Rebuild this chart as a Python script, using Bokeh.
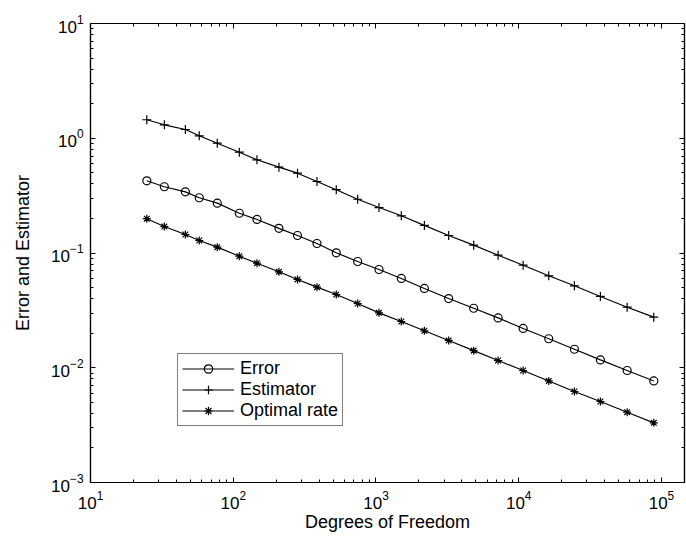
from bokeh.plotting import figure
from bokeh.models import (FixedTicker, Legend, LegendItem, LogAxis, LogTickFormatter,
                          CustomJSTickFormatter, Range1d)
from bokeh.embed import file_html
from bokeh.resources import INLINE

# ---- data ----
dof = [24.8, 32.9, 46.2, 57.8, 77.3, 110.3, 146.6, 209, 282, 386, 527, 744,
       1050, 1505, 2183, 3230, 4835, 7170, 10740, 16230, 24550, 37340, 57490, 88350]
error = [0.426, 0.378, 0.341, 0.303, 0.272, 0.222, 0.196, 0.164, 0.142, 0.121,
         0.1004, 0.0843, 0.0718, 0.0600, 0.0491, 0.0401, 0.0330, 0.0272, 0.0220,
         0.0179, 0.0145, 0.0117, 0.00946, 0.00767]
estimator = [1.449, 1.310, 1.192, 1.05, 0.905, 0.756, 0.649, 0.560, 0.496, 0.420,
             0.356, 0.294, 0.249, 0.211, 0.174, 0.142, 0.117, 0.0957, 0.0783,
             0.0633, 0.0518, 0.0418, 0.0337, 0.0276]
optimal = [0.199, 0.170, 0.145, 0.1285, 0.1124, 0.0938, 0.0815, 0.0686, 0.0588,
           0.0504, 0.0435, 0.0363, 0.0301, 0.0253, 0.0210, 0.0173, 0.0141,
           0.01156, 0.00946, 0.00767, 0.00621, 0.00508, 0.00410, 0.00331]

series_names = ["Error", "Estimator", "Optimal rate"]
x_tick_exps = [1, 2, 3, 4, 5]
y_tick_exps = [-3, -2, -1, 0, 1]
x_limits = (10, 1.45e5)
y_limits = (1e-3, 1e1)
x_title = "Degrees of Freedom"
y_title = "Error and Estimator"

FONT = "Liberation Sans"

p = figure(x_axis_type="log", y_axis_type="log",
           x_range=Range1d(*x_limits), y_range=Range1d(*y_limits),
           frame_width=594, frame_height=459,
           min_border_left=90, min_border_right=2, min_border_top=23, min_border_bottom=54,
           output_backend="svg", toolbar_location=None,
           background_fill_color="white", border_fill_color="white")
p.grid.visible = False
p.outline_line_color = "black"
p.outline_line_width = 1.2

p.add_layout(LogAxis(), "right")
p.add_layout(LogAxis(), "above")


def minors(exps):
    out = []
    for e in exps:
        out += [m * 10.0 ** e for m in range(2, 10)]
    return out


for ax in p.xaxis:
    ax.ticker = FixedTicker(ticks=[10.0 ** e for e in x_tick_exps], minor_ticks=minors(x_tick_exps))
for ax in p.yaxis:
    ax.ticker = FixedTicker(ticks=[10.0 ** e for e in y_tick_exps], minor_ticks=minors(y_tick_exps[:-1]))

for ax in list(p.xaxis) + list(p.yaxis):
    ax.major_tick_in = 5
    ax.major_tick_out = 0
    ax.minor_tick_in = 3
    ax.minor_tick_out = 0
    ax.axis_line_color = "black"
    ax.axis_line_width = 1.2
    ax.major_tick_line_color = "black"
    ax.minor_tick_line_color = "black"

# box-only axes (right, top): no labels
for ax in (p.right[0], p.above[0]):
    ax.formatter = CustomJSTickFormatter(code="return ''")
    ax.major_label_text_font_size = "0px"
    ax.major_label_standoff = 0

# labelled axes
bx = p.below[0]
ly = p.left[0]
for ax in (bx, ly):
    ax.formatter = LogTickFormatter()
    ax.major_label_text_font = FONT
    ax.major_label_text_font_size = "17px"
    ax.major_label_text_color = "black"
    ax.axis_label_text_font = FONT
    ax.axis_label_text_font_size = "18px"
    ax.axis_label_text_font_style = "normal"
    ax.axis_label_text_color = "black"
bx.axis_label = x_title
ly.axis_label = y_title
bx.major_label_standoff = 8
bx.axis_label_standoff = 0
ly.major_label_standoff = 7
ly.axis_label_standoff = 15

# ---- series ----
lw = 1.2
l1 = p.line(dof, error, line_color="black", line_width=lw)
m1 = p.scatter(dof, error, marker="circle", size=8, fill_color=None, line_color="black", line_width=lw)
l2 = p.line(dof, estimator, line_color="black", line_width=lw)
m2 = p.scatter(dof, estimator, marker="cross", size=9, line_color="black", line_width=lw)
l3 = p.line(dof, optimal, line_color="black", line_width=lw)
m3 = p.scatter(dof, optimal, marker="asterisk", size=8, line_color="black", line_width=lw)

legend = Legend(items=[LegendItem(label=series_names[0], renderers=[l1, m1]),
                       LegendItem(label=series_names[1], renderers=[l2, m2]),
                       LegendItem(label=series_names[2], renderers=[l3, m3])],
                location=(87, 56), margin=0, padding=4, spacing=0,
                glyph_width=52, glyph_height=21, label_height=21, label_standoff=6,
                label_text_font=FONT, label_text_font_size="18px", label_text_color="black",
                border_line_color="black", border_line_width=1.2,
                background_fill_color="white", background_fill_alpha=1)
p.add_layout(legend)

open("out.html", "w").write(file_html(p, INLINE))
